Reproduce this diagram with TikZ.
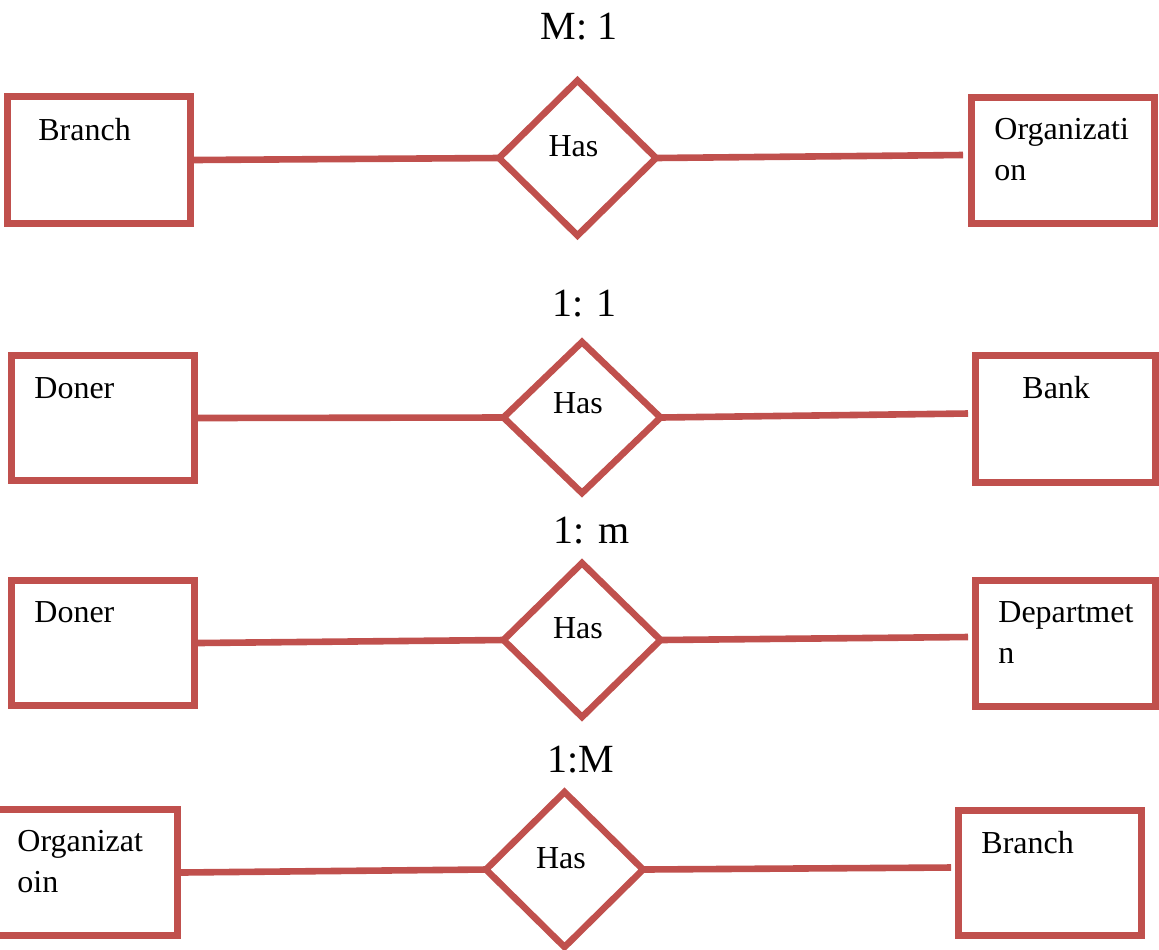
\documentclass[tikz,border=0pt]{standalone}
\usepackage{fontspec}
\setmainfont{Liberation Serif}
\usetikzlibrary{shapes.geometric}
\definecolor{erred}{RGB}{192,80,77}
\begin{document}
\begin{tikzpicture}[x=0.5pt,y=-0.5pt,
  entity/.style={draw=erred, line width=3.3pt, rectangle, inner sep=0pt,
    minimum width=91.5pt, minimum height=63pt},
  relation/.style={draw=erred, line width=3.3pt, diamond, inner sep=0pt,
    outer sep=0pt, minimum width=78.5pt, minimum height=77.5pt},
  link/.style={draw=erred, line width=3.3pt},
  label/.style={font=\fontsize{16}{20.5}\selectfont, inner sep=0pt,
    anchor=base west, align=left},
  ratio/.style={font=\fontsize{20}{24}\selectfont, inner sep=0pt, anchor=base},
  verb/.style={font=\fontsize{16}{20}\selectfont, inner sep=0pt, anchor=base}]
\useasboundingbox (0,0) rectangle (1159,949);

% ---- M:1  Branch -- Has -- Organization
\node[ratio] (r1) at (579,39) {M: 1};
\node[entity, minimum width=91.5pt, minimum height=63.5pt] (a1) at (99,160) {};
\node[entity, minimum width=91.5pt, minimum height=63pt] (b1) at (1063,160.5) {};
\node[relation] (d1) at (577.5,158) {};
\node[label] (ta1) at (38,140) {Branch};
\node[label] (tb1) at (994,180) {Organizati\\on};
\node[verb] (h1) at (573.5,156) {Has};
\coordinate (e1) at (963,155);
\draw[link] (a1.east) -- (d1.west);
\draw[link] (d1.east) -- (e1);

% ---- 1:1  Doner -- Has -- Bank
\node[ratio] (r2) at (584.5,316) {1: 1};
\node[entity, minimum width=91.5pt, minimum height=62.5pt] (a2) at (103,418) {};
\node[entity, minimum width=90pt, minimum height=63.5pt] (b2) at (1065.5,419) {};
\node[relation, minimum height=75.5pt] (d2) at (582,417.5) {};
\node[label] (ta2) at (34,398) {Doner};
\node[label] (tb2) at (1022,398) {Bank};
\node[verb] (h2) at (578,413) {Has};
\coordinate (e2) at (968,413.5);
\draw[link] (a2.east) -- (d2.west);
\draw[link] (d2.east) -- (e2);

% ---- 1:m  Doner -- Has -- Department
\node[ratio] (r3) at (591.5,543) {1: m};
\node[entity, minimum width=91.5pt, minimum height=62.5pt] (a3) at (103,643) {};
\node[entity, minimum width=90pt, minimum height=63pt] (b3) at (1065.5,643.5) {};
\node[relation, minimum height=77pt] (d3) at (582,640) {};
\node[label] (ta3) at (34,622) {Doner};
\node[label] (tb3) at (998,663) {Departmet\\n};
\node[verb] (h3) at (578,638) {Has};
\coordinate (e3) at (968,637);
\draw[link] (a3.east) -- (d3.west);
\draw[link] (d3.east) -- (e3);

% ---- 1:M  Organization -- Has -- Branch
\node[ratio] (r4) at (580.5,772) {1:M};
\node[entity, minimum width=91.5pt, minimum height=63pt] (a4) at (86,872.5) {};
\node[entity, minimum width=91.5pt, minimum height=62.5pt] (b4) at (1050,873) {};
\node[relation] (d4) at (564.5,869.5) {};
\node[label] (ta4) at (17,892) {Organizat\\oin};
\node[label] (tb4) at (981,853) {Branch};
\node[verb] (h4) at (561,868) {Has};
\coordinate (e4) at (951,867.5);
\draw[link] (a4.east) -- (d4.west);
\draw[link] (d4.east) -- (e4);
\end{tikzpicture}
\end{document}
